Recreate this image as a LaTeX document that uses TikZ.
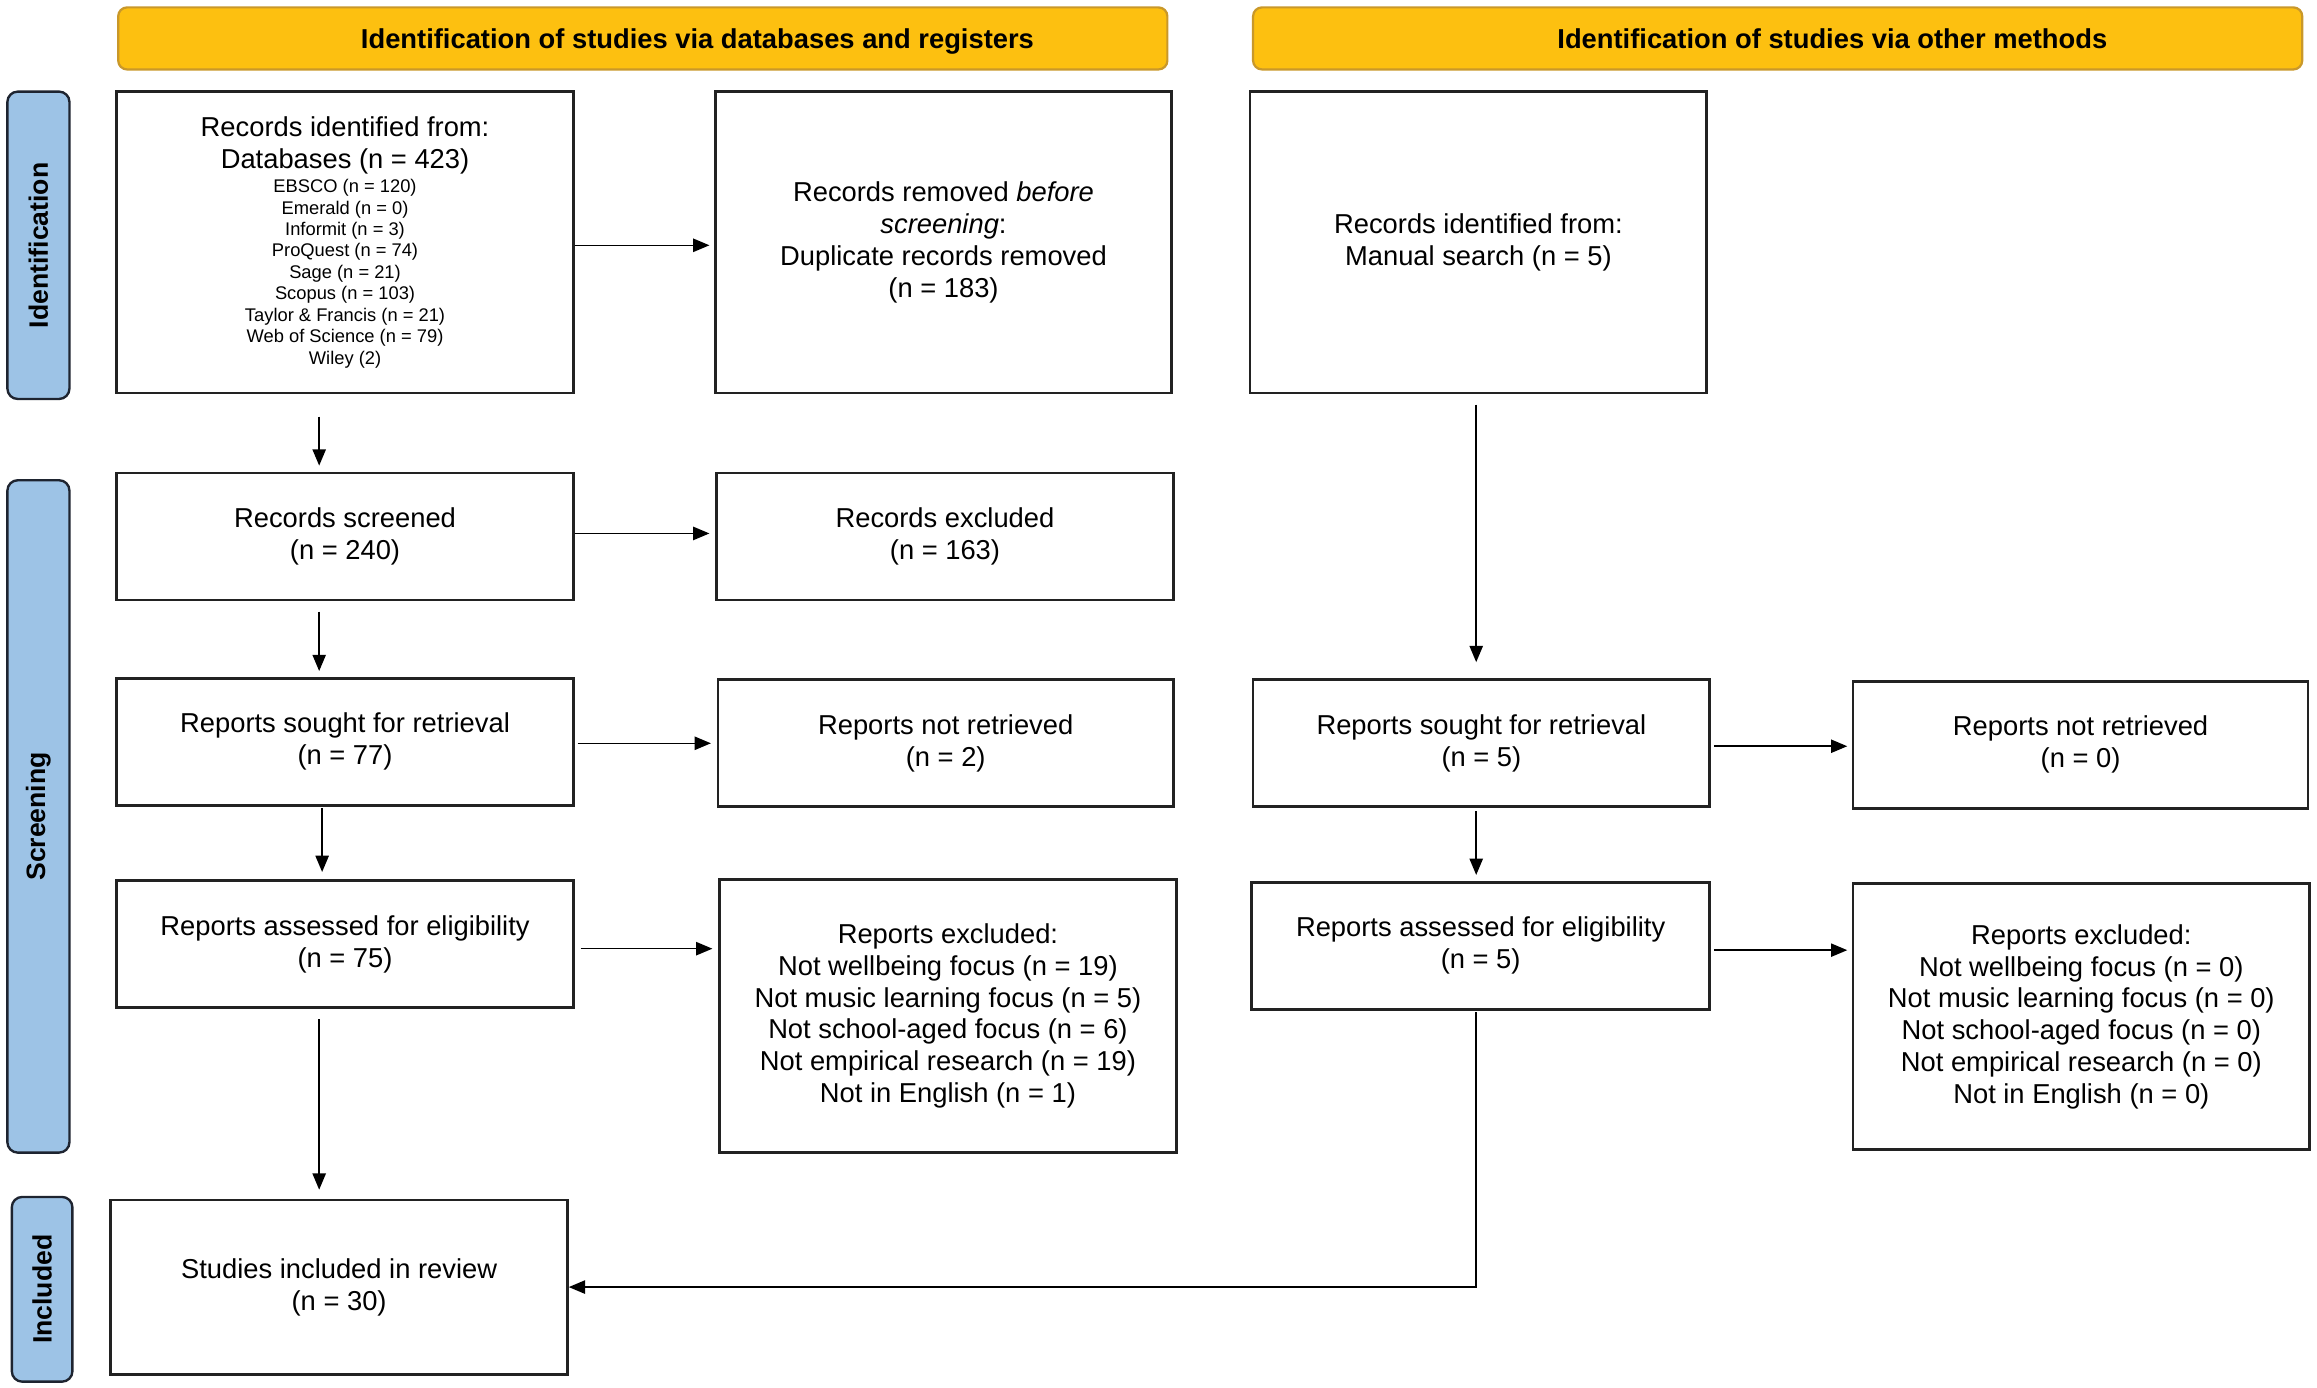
\documentclass[tikz,border=0pt]{standalone}
\usepackage{fontspec}
\setmainfont{Liberation Sans}
\usetikzlibrary{arrows.meta}
\definecolor{hdrfill}{HTML}{FDC010}
\definecolor{hdrline}{HTML}{C9982A}
\definecolor{sidefill}{HTML}{9DC3E6}
\definecolor{sideline}{HTML}{1E2430}
\definecolor{boxline}{HTML}{222222}
\newcommand{\smallfs}{\fontsize{12.4}{14.4}\selectfont}
\newcommand{\bigfs}{\fontsize{18.5}{21.5}\selectfont}
\begin{document}
\begin{tikzpicture}[x=1pt,y=-1pt,
  box/.style={draw=boxline, line width=1.8pt, fill=white, inner sep=0pt, align=center, font=\bigfs},
  hdr/.style={draw=hdrline, line width=1.5pt, fill=hdrfill, rounded corners=6pt, inner sep=0pt, minimum width=710pt, minimum height=42pt},
  hdrtext/.style={font=\bfseries\fontsize{18.5}{22}\selectfont, inner sep=0pt, anchor=base},
  side/.style={draw=sideline, line width=1.6pt, fill=sidefill, rounded corners=7pt, inner sep=0pt},
  sidetext/.style={font=\bfseries\fontsize{18}{22}\selectfont, rotate=90, inner sep=0pt},
  arr/.style={draw=black, line width=1pt, -{Triangle[length=11pt,width=9pt]}}]
\useasboundingbox (0,0) rectangle (1568,939.3);

% headers
\node[hdr] (hdrL) at (435,26) {};
\node[hdrtext] (hdrLt) at ([xshift=37pt,yshift=-6.6pt]hdrL.center) {Identification of studies via databases and registers};
\node[hdr] (hdrR) at (1203,26) {};
\node[hdrtext] (hdrRt) at ([xshift=37pt,yshift=-6.6pt]hdrR.center) {Identification of studies via other methods};

% side bars
\node[side, minimum width=42pt, minimum height=208pt] (sideI) at (26,166) {};
\node[sidetext] (sideIt) at (sideI.center) {Identification};
\node[side, minimum width=42pt, minimum height=455pt] (sideS) at (26,552.5) {};
\node[sidetext] (sideSt) at (sideS.center) {Screening};
\node[side, minimum width=41pt, minimum height=125pt] (sideN) at (28.5,872.5) {};
\node[sidetext] (sideNt) at (sideN.center) {Included};

% left column
\node[box, minimum width=309pt, minimum height=204pt] (A) at (233.5,164) {%
Records identified from:\\
Databases (n = 423)\\[-5pt]
\smallfs EBSCO (n = 120)\\[-7pt]
\smallfs Emerald (n = 0)\\[-7pt]
\smallfs Informit (n = 3)\\[-7pt]
\smallfs ProQuest (n = 74)\\[-7pt]
\smallfs Sage (n = 21)\\[-7pt]
\smallfs Scopus (n = 103)\\[-7pt]
\smallfs Taylor \& Francis (n = 21)\\[-7pt]
\smallfs Web of Science (n = 79)\\[-7pt]
\smallfs Wiley (2)};
\node[box, minimum width=309pt, minimum height=204pt] (B) at (638.5,164) {%
Records removed \textit{before}\\\textit{screening}:\\Duplicate records removed\\(n = 183)};
\node[box, minimum width=309pt, minimum height=86pt] (scr) at (233.5,363) {Records screened\\(n = 240)};
\node[box, minimum width=309pt, minimum height=86pt] (exc1) at (639.5,363) {Records excluded\\(n = 163)};
\node[box, minimum width=309pt, minimum height=86pt] (sought) at (233.5,502) {Reports sought for retrieval\\(n = 77)};
\node[box, minimum width=308pt, minimum height=86pt] (notret) at (640,503) {Reports not retrieved\\(n = 2)};
\node[box, minimum width=309pt, minimum height=86pt] (ass) at (233.5,639) {Reports assessed for eligibility\\(n = 75)};
\node[box, minimum width=309pt, minimum height=185pt] (exc2) at (641.5,687.5) {%
Reports excluded:\\Not wellbeing focus (n = 19)\\Not music learning focus (n = 5)\\Not school-aged focus (n = 6)\\Not empirical research (n = 19)\\Not in English (n = 1)};
\node[box, minimum width=309pt, minimum height=118pt] (inc) at (229.5,871) {Studies included in review\\(n = 30)};

% right column
\node[box, minimum width=309pt, minimum height=204pt] (C) at (1000.5,164) {Records identified from:\\Manual search (n = 5)};
\node[box, minimum width=309pt, minimum height=86pt] (rsought) at (1002.5,503) {Reports sought for retrieval\\(n = 5)};
\node[box, minimum width=308pt, minimum height=86pt] (rnotret) at (1408,504) {Reports not retrieved\\(n = 0)};
\node[box, minimum width=310pt, minimum height=86pt] (rass) at (1002,640) {Reports assessed for eligibility\\(n = 5)};
\node[box, minimum width=309pt, minimum height=180pt] (rexc) at (1408.5,688) {%
Reports excluded:\\Not wellbeing focus (n = 0)\\Not music learning focus (n = 0)\\Not school-aged focus (n = 0)\\Not empirical research (n = 0)\\Not in English (n = 0)};

% vertical arrows left
\draw[arr, shorten <=15pt, shorten >=4pt] ([xshift=-17.5pt]A.south) -- ([xshift=-17.5pt]scr.north);
\draw[arr, shorten <=7pt, shorten >=4pt] ([xshift=-17.5pt]scr.south) -- ([xshift=-17.5pt]sought.north);
\draw[arr, shorten <=1pt, shorten >=5pt] ([xshift=-15.5pt]sought.south) -- ([xshift=-15.5pt]ass.north);
\draw[arr, shorten <=7pt, shorten >=6pt] ([xshift=-17.5pt]ass.south) -- ([xshift=-13.5pt]inc.north);

% horizontal arrows left
\draw[arr, shorten >=3pt] ([yshift=-2pt]A.east) -- ([yshift=-2pt]B.west);
\draw[arr, shorten >=4pt] ([yshift=2pt]scr.east) -- ([yshift=2pt]exc1.west);
\draw[arr, shorten <=2pt, shorten >=4pt] ([yshift=-1pt]sought.east) -- ([yshift=-1pt]sought.east -| notret.west);
\draw[arr, shorten <=4pt, shorten >=4pt] ([yshift=-3pt]ass.east) -- ([yshift=-3pt]ass.east -| exc2.west);

% right arrows
\draw[arr, shorten <=7pt, shorten >=11pt] ([xshift=-1.5pt]C.south) -- ([xshift=-3.5pt]rsought.north);
\draw[arr, shorten <=2pt, shorten >=4pt] ([xshift=-3.5pt]rsought.south) -- ([xshift=-3pt]rass.north);
\draw[arr, shorten <=2pt, shorten >=3pt] ([yshift=-2pt]rsought.east) -- ([yshift=-2pt]rsought.east -| rnotret.west);
\draw[arr, shorten <=2pt, shorten >=3pt] ([yshift=-3pt]rass.east) -- ([yshift=-3pt]rass.east -| rexc.west);
\draw[arr, shorten <=1pt] ([xshift=-3pt]rass.south) |- (inc.east);
\end{tikzpicture}
\end{document}
